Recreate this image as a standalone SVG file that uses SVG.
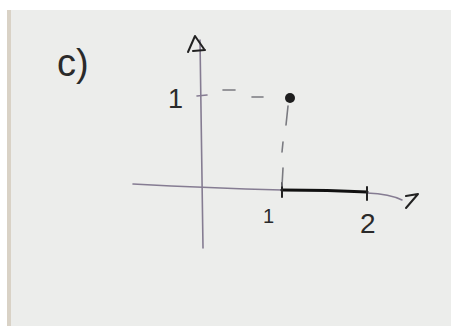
<svg xmlns="http://www.w3.org/2000/svg" width="451" height="327" viewBox="0 0 451 327">
<style>
.thin{fill:none;stroke:#857c92;stroke-width:1.6;stroke-linecap:round}
.pen{fill:none;stroke:#222;stroke-width:2;stroke-linecap:round;stroke-linejoin:round}
.thick{fill:none;stroke:#111;stroke-width:3.2;stroke-linecap:round}
.dash{fill:none;stroke:#7a7a80;stroke-width:1.6;stroke-linecap:round}
.lbl{font-family:"Liberation Sans",Arial,sans-serif;fill:#2a2a2a}
</style>
<rect width="451" height="327" fill="#ffffff"/>
<rect x="7" y="10" width="444" height="316" fill="#ecedeb"/>
<rect x="7" y="10" width="4" height="316" fill="#d9d2c6"/>
<text class="lbl" x="57" y="76" font-size="38">c)</text>
<g id="y-axis">
<path class="thin" d="M200,40 L203,248" stroke="#8a8a90"/>
<path class="pen" d="M188,52 L195,36 L204,49"/>
<path class="pen" d="M193,51 L205,50"/>
<path class="thin" d="M197,96 L207,95" stroke="#777"/>
<text class="lbl" x="168" y="108" font-size="27">1</text>
</g>
<g id="x-axis">
<path class="thin" d="M133,184 Q210,188 282,190"/>
<path class="thick" d="M282,190 Q330,190 367,192"/>
<path class="thin" d="M367,193 Q390,194 402,200"/>
<path class="pen" d="M406,196 L418,194 L406,208"/>
<path class="pen" d="M282,183 L282,197"/>
<path class="pen" d="M367,187 L367,200"/>
<text class="lbl" x="263" y="223" font-size="20">1</text>
<text class="lbl" x="360" y="233" font-size="28">2</text>
</g>
<g id="point">
<circle cx="290" cy="98" r="5" fill="#1e1e1e"/>
</g>
<g id="connectors">
<path class="dash" d="M223,90 L235,90"/>
<path class="dash" d="M252,97 L263,97"/>
<path class="dash" d="M288,106 L286,125"/>
<path class="dash" d="M283,142 L282,152"/>
<path class="dash" d="M283,168 L282,186"/>
</g>
</svg>
